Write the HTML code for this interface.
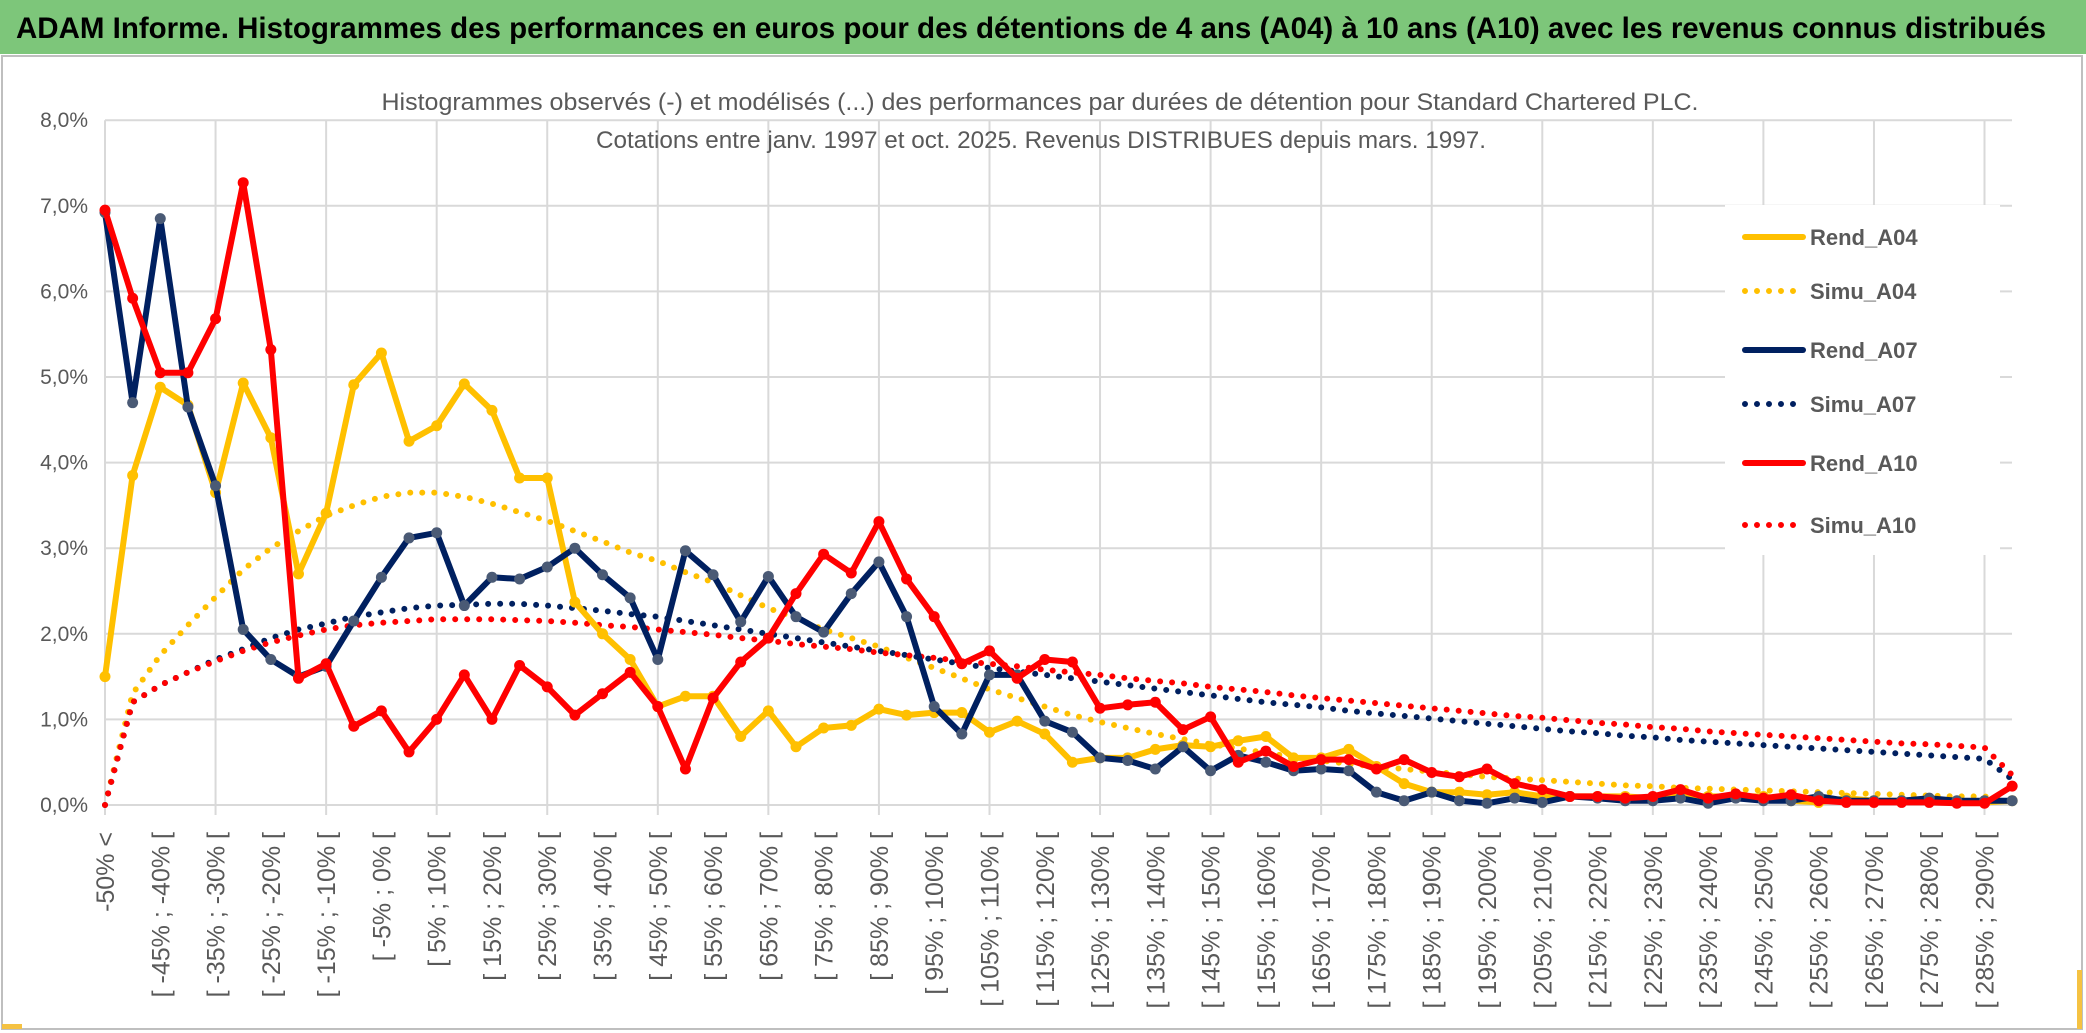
<!DOCTYPE html>
<html><head><meta charset="utf-8"><style>
html,body{margin:0;padding:0;background:#fff;}
svg{display:block;font-family:"Liberation Sans",Arial,sans-serif;}
</style></head><body>
<svg id="chart" width="2086" height="1033" viewBox="0 0 2086 1033" xmlns="http://www.w3.org/2000/svg">
<rect x="0" y="0" width="2086" height="1033" fill="#fff"/>
<rect x="0" y="0" width="2086" height="54" fill="#7dc67a"/>
<text x="16" y="38" font-size="30" font-weight="bold" fill="#000" textLength="2030" lengthAdjust="spacingAndGlyphs">ADAM Informe. Histogrammes des performances en euros pour des détentions de 4 ans (A04) à 10 ans (A10) avec les revenus connus distribués</text>
<rect x="2" y="56" width="2080" height="973" fill="none" stroke="#bfbfbf" stroke-width="2"/>
<rect x="2" y="1024" width="20" height="5" fill="#f5c242"/>
<rect x="2077" y="970" width="5" height="59" fill="#f5c242"/>
<g id="grid"></g>
<text x="1040" y="110" font-size="24" fill="#595959" text-anchor="middle" textLength="1317" lengthAdjust="spacingAndGlyphs">Histogrammes observés (-) et modélisés (...) des performances par durées de détention pour Standard Chartered PLC.</text>
<text x="1041" y="148" font-size="24" fill="#595959" text-anchor="middle" textLength="890" lengthAdjust="spacingAndGlyphs">Cotations entre janv. 1997 et oct. 2025. Revenus DISTRIBUES depuis mars. 1997.</text>
<g id="yaxis"></g>
<g id="xaxis"></g>
<g id="series"></g>
<g id="legend"></g>
</svg>
<script>
const categories = ["-50% <"];
for (let v = -50; v < 295; v += 5) categories.push("[ " + v + "% ; " + (v + 5) + "% [");
const yTicks = [0,1,2,3,4,5,6,7,8];
const yTickLabels = ["0,0%","1,0%","2,0%","3,0%","4,0%","5,0%","6,0%","7,0%","8,0%"];
const rendA04 = [1.5,3.85,4.88,4.67,3.65,4.93,4.29,2.7,3.41,4.91,5.28,4.25,4.43,4.92,4.61,3.82,3.82,2.37,2.0,1.7,1.15,1.27,1.27,0.8,1.1,0.68,0.9,0.93,1.12,1.05,1.08,1.08,0.85,0.98,0.83,0.5,0.55,0.55,0.65,0.7,0.68,0.75,0.8,0.55,0.55,0.65,0.45,0.25,0.15,0.15,0.12,0.15,0.1,0.1,0.1,0.1,0.08,0.1,0.1,0.1,0.1,0.05,0.03,0.08,0.05,0.05,0.05,0.04,0.03,0.05];
const simuA04 = [0,1.3,1.75,2.1,2.43,2.75,3.0,3.2,3.38,3.5,3.6,3.65,3.65,3.6,3.52,3.42,3.32,3.2,3.08,2.95,2.85,2.72,2.6,2.45,2.3,2.18,2.05,1.95,1.85,1.72,1.6,1.48,1.35,1.25,1.15,1.05,0.97,0.9,0.83,0.77,0.71,0.66,0.61,0.56,0.52,0.48,0.45,0.42,0.39,0.36,0.33,0.31,0.29,0.27,0.25,0.23,0.22,0.2,0.19,0.18,0.17,0.16,0.15,0.14,0.13,0.12,0.11,0.1,0.1,0.05];
const rendA07 = [6.92,4.7,6.85,4.65,3.73,2.05,1.7,1.5,1.62,2.15,2.66,3.12,3.18,2.33,2.66,2.64,2.78,3.0,2.69,2.42,1.7,2.97,2.69,2.14,2.67,2.2,2.02,2.47,2.84,2.2,1.15,0.83,1.52,1.52,0.98,0.85,0.55,0.52,0.42,0.68,0.4,0.58,0.5,0.4,0.42,0.4,0.15,0.05,0.15,0.05,0.02,0.08,0.03,0.1,0.08,0.05,0.05,0.08,0.02,0.08,0.05,0.05,0.1,0.05,0.05,0.05,0.08,0.05,0.05,0.05];
const simuA07 = [0,1.2,1.4,1.55,1.7,1.82,1.95,2.05,2.12,2.2,2.25,2.3,2.33,2.34,2.35,2.35,2.33,2.3,2.27,2.23,2.2,2.15,2.1,2.05,2.0,1.95,1.9,1.85,1.8,1.75,1.7,1.65,1.6,1.56,1.52,1.48,1.44,1.4,1.36,1.32,1.28,1.24,1.2,1.17,1.14,1.1,1.07,1.04,1.01,0.98,0.95,0.92,0.89,0.86,0.84,0.81,0.79,0.76,0.74,0.72,0.7,0.68,0.66,0.64,0.62,0.6,0.58,0.56,0.54,0.3];
const rendA10 = [6.95,5.92,5.05,5.05,5.68,7.27,5.32,1.48,1.65,0.92,1.1,0.62,1.0,1.52,1.0,1.63,1.38,1.05,1.3,1.55,1.15,0.42,1.25,1.67,1.95,2.47,2.93,2.71,3.31,2.64,2.2,1.65,1.8,1.48,1.7,1.67,1.13,1.17,1.2,0.88,1.03,0.5,0.63,0.45,0.53,0.53,0.42,0.53,0.38,0.33,0.42,0.25,0.18,0.1,0.1,0.08,0.1,0.18,0.08,0.13,0.08,0.12,0.05,0.03,0.03,0.03,0.03,0.02,0.02,0.22];
const simuA10 = [0,1.2,1.4,1.55,1.68,1.8,1.9,1.98,2.05,2.1,2.13,2.15,2.17,2.17,2.17,2.16,2.15,2.13,2.1,2.08,2.05,2.02,1.99,1.95,1.92,1.88,1.85,1.82,1.78,1.75,1.72,1.68,1.65,1.62,1.58,1.55,1.52,1.48,1.45,1.42,1.38,1.35,1.32,1.28,1.25,1.22,1.19,1.16,1.13,1.1,1.07,1.04,1.02,0.99,0.96,0.94,0.91,0.89,0.86,0.84,0.82,0.8,0.78,0.76,0.74,0.72,0.71,0.69,0.67,0.35];
const seriesNames = ["Rend_A04","Simu_A04","Rend_A07","Simu_A07","Rend_A10","Simu_A10"];

const NS = "http://www.w3.org/2000/svg";
const X0 = 105, STEP = 27.64, Y0 = 805, PPU = 85.6, XR = 2012;
function xPos(i){ return X0 + i*STEP; }
function yPos(v){ return Y0 - v*PPU; }
function mk(tag, attrs, parent){
  const e = document.createElementNS(NS, tag);
  for (const k in attrs) e.setAttribute(k, attrs[k]);
  parent.appendChild(e); return e;
}
const grid = document.getElementById("grid");
yTicks.forEach(function(t){
  const l = mk("line",{x1:X0,x2:XR,y1:yPos(t),y2:yPos(t),stroke:"#d9d9d9","stroke-width":2},grid);
  
  
});
for (let i = 0; i < categories.length; i += 4) {
  const l = mk("line",{x1:xPos(i),x2:xPos(i),y1:yPos(8),y2:Y0+10,stroke:"#d9d9d9","stroke-width":2},grid);
  
  
}
const yaxis = document.getElementById("yaxis");
yTicks.forEach(function(t,k){
  const tx = mk("text",{x:88,y:yPos(t)+7,"font-size":21,fill:"#595959","text-anchor":"end"},yaxis);
  tx.textContent = yTickLabels[k];
  
  
});
const xaxis = document.getElementById("xaxis");
for (let i = 0; i < categories.length; i += 2) {
  const x = xPos(i) + 9, y = 832;
  const tx = mk("text",{x:x,y:y,"font-size":25,fill:"#595959","text-anchor":"end",transform:"rotate(-90 "+x+" "+y+")"},xaxis);
  tx.textContent = categories[i];
  
  
}
const legend = document.getElementById("legend");
const lbg = mk("rect",{x:1725,y:205,width:275,height:350,fill:"#fff"},legend);



const seriesDefs = [
  {name:"Rend_A04", data:rendA04, color:"#FFC000", dotted:false},
  {name:"Simu_A04", data:simuA04, color:"#FFC000", dotted:true},
  {name:"Rend_A07", data:rendA07, color:"#002060", dotted:false},
  {name:"Simu_A07", data:simuA07, color:"#002060", dotted:true},
  {name:"Rend_A10", data:rendA10, color:"#FF0000", dotted:false},
  {name:"Simu_A10", data:simuA10, color:"#FF0000", dotted:true}
];
const markerColor = {"Rend_A04":"#FFC000","Rend_A07":"#4a5a75","Rend_A10":"#FF0000"};
const sg = document.getElementById("series");
const order = [1,3,5,0,2,4];
order.forEach(function(si){
  const s = seriesDefs[si];
  const pts = s.data.map(function(v,i){ return xPos(i).toFixed(1)+","+yPos(v).toFixed(1); }).join(" ");
  const attrs = {points:pts,fill:"none",stroke:s.color,"stroke-width":6,"stroke-linejoin":"round","stroke-linecap":"round"};
  if (s.dotted) attrs["stroke-dasharray"] = "0 12";
  const pl = mk("polyline",attrs,sg);
  
  
  if (!s.dotted) {
    s.data.forEach(function(v,i){
      const c = mk("circle",{cx:xPos(i),cy:yPos(v),r:5.5,fill:markerColor[s.name]},sg);
      
      
    });
  }
});
const legendY = [237,291,350,404,463,525];
seriesDefs.forEach(function(s,k){
  const y = legendY[k];
  const la = {x1:1745,x2:1803,y1:y,y2:y,stroke:s.color,"stroke-width":6,"stroke-linecap":"round"};
  if (s.dotted) la["stroke-dasharray"] = "0 12";
  const ln = mk("line",la,legend);
  
  
  const tx = mk("text",{x:1810,y:y+8,"font-size":22,"font-weight":"bold",fill:"#595959"},legend);
  tx.textContent = s.name;
  
  
});
</script>
</body></html>
